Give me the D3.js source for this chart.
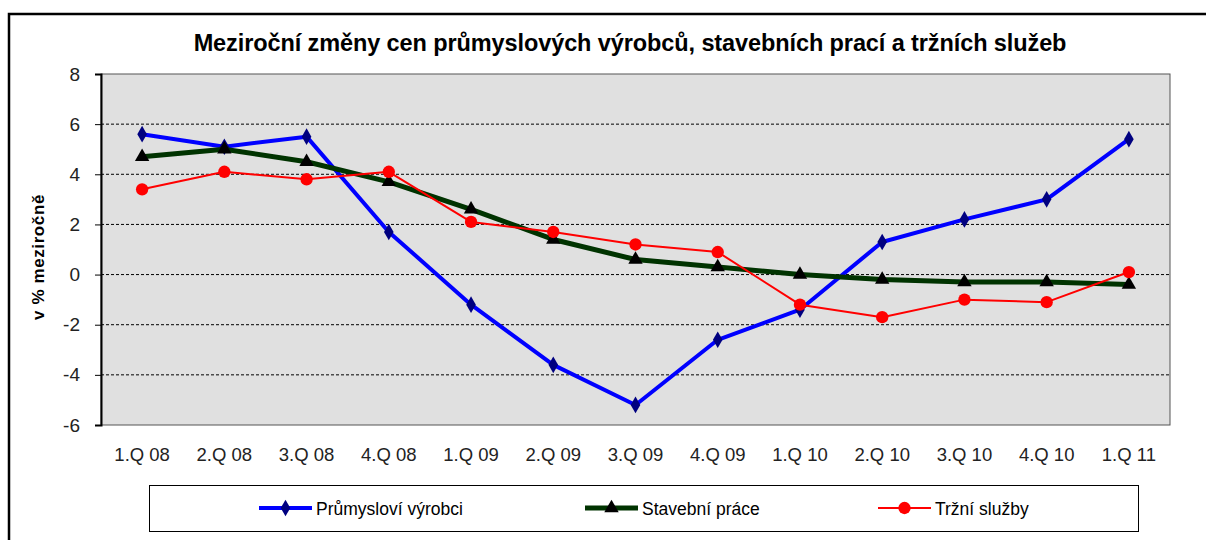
<!DOCTYPE html>
<html lang="cs">
<head>
<meta charset="utf-8">
<style>
body { margin: 0; background: #fff; }
svg { display: block; font-family: "Liberation Sans", Arial, sans-serif; }
.tick text { fill: #222; }
</style>
</head>
<body>
<script src="https://cdn.jsdelivr.net/npm/d3@7"></script>
<script>

var width = 1206,
    height = 540;

// data
var quarters = ["1.Q 08", "2.Q 08", "3.Q 08", "4.Q 08", "1.Q 09", "2.Q 09", "3.Q 09",
                "4.Q 09", "1.Q 10", "2.Q 10", "3.Q 10", "4.Q 10", "1.Q 11"];
var prumysl = [5.6, 5.1, 5.5, 1.7, -1.2, -3.6, -5.2, -2.6, -1.4, 1.3, 2.2, 3.0, 5.4];
var stavebni = [4.7, 5.0, 4.5, 3.7, 2.6, 1.4, 0.6, 0.3, 0.0, -0.2, -0.3, -0.3, -0.4];
var trzni = [3.4, 4.1, 3.8, 4.1, 2.1, 1.7, 1.2, 0.9, -1.2, -1.7, -1.0, -1.1, 0.1];
var yTicks = [-6, -4, -2, 0, 2, 4, 6, 8];

var series = [
    {name: "Průmysloví výrobci", values: prumysl, color: "#0000ff", width: 4, marker: "diamond", mcolor: "#000080"},
    {name: "Stavební práce", values: stavebni, color: "#003300", width: 5, marker: "triangle", mcolor: "#000000"},
    {name: "Tržní služby", values: trzni, color: "#ff0000", width: 2, marker: "circle", mcolor: "#ff0000"}
];

var plot = {left: 101, top: 74, right: 1170, bottom: 425};

var x = d3.scaleBand()
    .domain(quarters)
    .range([plot.left, plot.right]);

var y = d3.scaleLinear()
    .domain([-6, 8])
    .range([plot.bottom, plot.top]);

var svg = d3.select("body").append("svg")
    .attr("width", width)
    .attr("height", height);

// outer frame
svg.append("rect")
    .attr("x", 9).attr("y", 14)
    .attr("width", 1210).attr("height", 540)
    .attr("fill", "none")
    .attr("stroke", "#000")
    .attr("stroke-width", 2.5);

svg.append("text")
    .attr("x", 630).attr("y", 51)
    .attr("text-anchor", "middle")
    .attr("font-size", 23.5)
    .attr("font-weight", "bold")
    .attr("letter-spacing", -0.1)
    .text("Meziroční změny cen průmyslových výrobců, stavebních prací a tržních služeb");

// plot background
svg.append("rect")
    .attr("x", plot.left).attr("y", plot.top)
    .attr("width", plot.right - plot.left).attr("height", plot.bottom - plot.top)
    .attr("fill", "#e0e0e0")
    .attr("stroke", "#555")
    .attr("stroke-width", 1);

svg.append("g").selectAll("line")
    .data(yTicks.filter(function(d) { return d > -6 && d < 8; }))
    .enter().append("line")
    .attr("x1", plot.left).attr("x2", plot.right)
    .attr("y1", function(d) { return y(d); })
    .attr("y2", function(d) { return y(d); })
    .attr("stroke", "#000")
    .attr("stroke-dasharray", "3,2")
    .attr("stroke-width", 1);

var yAxis = svg.append("g")
    .attr("transform", "translate(" + plot.left + ",0)")
    .call(d3.axisLeft(y).tickValues(yTicks).tickSize(6).tickPadding(15)
        .tickFormat(function(d) { return String(d); }));
yAxis.select(".domain").attr("stroke", "#000").attr("stroke-width", 2);
yAxis.selectAll(".tick line").attr("stroke", "#000");
yAxis.selectAll(".tick text").attr("font-size", 19).attr("font-family", "Liberation Sans, Arial, sans-serif");

var xAxis = svg.append("g")
    .attr("transform", "translate(0," + plot.bottom + ")")
    .call(d3.axisBottom(x).tickSize(0).tickPadding(23));
xAxis.select(".domain").remove();
xAxis.selectAll(".tick text").attr("font-size", 18.5).attr("font-family", "Liberation Sans, Arial, sans-serif");

svg.append("text")
    .attr("transform", "translate(44,257) rotate(-90)")
    .attr("text-anchor", "middle")
    .attr("font-size", 17)
    .attr("font-weight", "bold")
    .attr("letter-spacing", 0.6)
    .text("v % meziročně");

var line = d3.line()
    .x(function(d, i) { return x(quarters[i]) + x.bandwidth() / 2; })
    .y(function(d) { return y(d); });

var symbols = {
    diamond: d3.symbol().type(d3.symbolDiamond).size(80),
    triangle: d3.symbol().type(d3.symbolTriangle).size(90),
    circle: d3.symbol().type(d3.symbolCircle).size(120)
};

series.forEach(function(s) {
    var g = svg.append("g");
    g.append("path")
        .datum(s.values)
        .attr("fill", "none")
        .attr("stroke", s.color)
        .attr("stroke-width", s.width)
        .attr("stroke-linejoin", "round")
        .attr("d", line);
    g.selectAll("path.m")
        .data(s.values)
        .enter().append("path")
        .attr("class", "m")
        .attr("transform", function(d, i) {
            return "translate(" + (x(quarters[i]) + x.bandwidth() / 2) + "," + y(d) + ")";
        })
        .attr("fill", s.mcolor)
        .attr("d", symbols[s.marker]());
});

// legend
var legend = svg.append("g");
legend.append("rect")
    .attr("x", 149.5).attr("y", 485.5)
    .attr("width", 989).attr("height", 46)
    .attr("fill", "#fff")
    .attr("stroke", "#000")
    .attr("stroke-width", 1);

var legendX = [259, 585, 878];
series.forEach(function(s, i) {
    var lg = legend.append("g").attr("transform", "translate(" + legendX[i] + ",508)");
    lg.append("line")
        .attr("x1", 0).attr("x2", 53)
        .attr("stroke", s.color)
        .attr("stroke-width", s.width);
    lg.append("path")
        .attr("transform", "translate(26.5,0)")
        .attr("fill", s.mcolor)
        .attr("d", symbols[s.marker]());
    lg.append("text")
        .attr("x", 57).attr("y", 6.5)
        .attr("font-size", 17.5)
        .text(s.name);
});

</script>
</body>
</html>
